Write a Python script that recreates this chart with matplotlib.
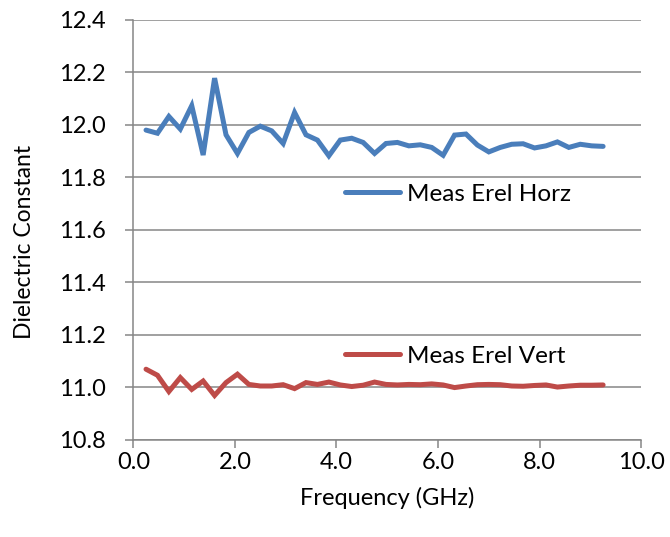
import matplotlib
matplotlib.use('Agg')
import matplotlib.pyplot as plt

plt.rcParams['font.family'] = ['Lato', 'DejaVu Sans']

# frequency points (GHz)
freq = [0.25, 0.475, 0.7, 0.925, 1.15, 1.375, 1.6, 1.825, 2.05, 2.275,
        2.5, 2.725, 2.95, 3.175, 3.4, 3.625, 3.85, 4.075, 4.3, 4.525,
        4.75, 4.975, 5.2, 5.425, 5.65, 5.875, 6.1, 6.325, 6.55, 6.775,
        7.0, 7.225, 7.45, 7.675, 7.9, 8.125, 8.35, 8.575, 8.8, 9.025, 9.25]

erel_horz = [11.980, 11.968, 12.032, 11.984, 12.073, 11.885, 12.178, 11.962, 11.891, 11.971,
             11.995, 11.977, 11.929, 12.047, 11.962, 11.942, 11.882, 11.942, 11.949, 11.933,
             11.891, 11.929, 11.933, 11.920, 11.924, 11.914, 11.884, 11.961, 11.965, 11.923,
             11.897, 11.914, 11.926, 11.928, 11.912, 11.920, 11.935, 11.914, 11.926, 11.920, 11.918]

erel_vert = [11.069, 11.046, 10.984, 11.037, 10.992, 11.024, 10.969, 11.018, 11.050, 11.011,
             11.005, 11.005, 11.010, 10.995, 11.018, 11.011, 11.020, 11.009, 11.003, 11.008,
             11.020, 11.011, 11.009, 11.011, 11.010, 11.013, 11.009, 10.999, 11.005, 11.010,
             11.011, 11.010, 11.005, 11.004, 11.007, 11.009, 11.001, 11.005, 11.008, 11.008, 11.009]

labels = ['Meas Erel Horz', 'Meas Erel Vert']
blue = '#4a7ebb'
red = '#be4b48'
grey = '#868686'

fig = plt.figure(figsize=(6.7, 5.37), dpi=100)
ax = fig.add_axes([0.199, 0.181, 0.758, 0.782])

h1, = ax.plot(freq, erel_horz, color=blue, lw=3.6, solid_joinstyle='miter', solid_capstyle='round', label=labels[0])
h2, = ax.plot(freq, erel_vert, color=red, lw=3.6, solid_joinstyle='miter', solid_capstyle='round', label=labels[1])

ax.set_xlim(0, 10)
ax.set_ylim(10.8, 12.4)
ax.set_xticks([0, 2, 4, 6, 8, 10])
ax.set_xticklabels(['0.0', '2.0', '4.0', '6.0', '8.0', '10.0'])
ax.set_yticks([10.8, 11.0, 11.2, 11.4, 11.6, 11.8, 12.0, 12.2, 12.4])
ax.set_yticklabels(['%.1f' % v for v in ax.get_yticks()])
ax.yaxis.grid(True, color=grey, lw=1.1)
ax.set_axisbelow(True)

for s in ['top', 'right']:
    ax.spines[s].set_visible(False)
for s in ['left', 'bottom']:
    ax.spines[s].set_color(grey)
    ax.spines[s].set_linewidth(1.1)
ax.tick_params(axis='both', colors=grey, length=6, width=1.1, labelsize=17, labelcolor='black')
ax.tick_params(axis='y', pad=14)
ax.tick_params(axis='x', pad=3)

ax.set_xlabel('Frequency (GHz)', fontsize=17, labelpad=10)
ax.set_ylabel('Dielectric Constant', fontsize=16.5)
ax.yaxis.set_label_coords(-0.193, 0.471)

# two separate legend entries placed inside the plot
leg1 = ax.legend(handles=[h1], loc='center left', bbox_to_anchor=(0.417, 0.585),
                 frameon=False, fontsize=17.5, handlelength=2.25, handletextpad=0.3,
                 borderpad=0, borderaxespad=0)
ax.add_artist(leg1)
ax.legend(handles=[h2], loc='center left', bbox_to_anchor=(0.417, 0.199),
          frameon=False, fontsize=17.5, handlelength=2.25, handletextpad=0.3,
          borderpad=0, borderaxespad=0)

plt.savefig('out.png')
